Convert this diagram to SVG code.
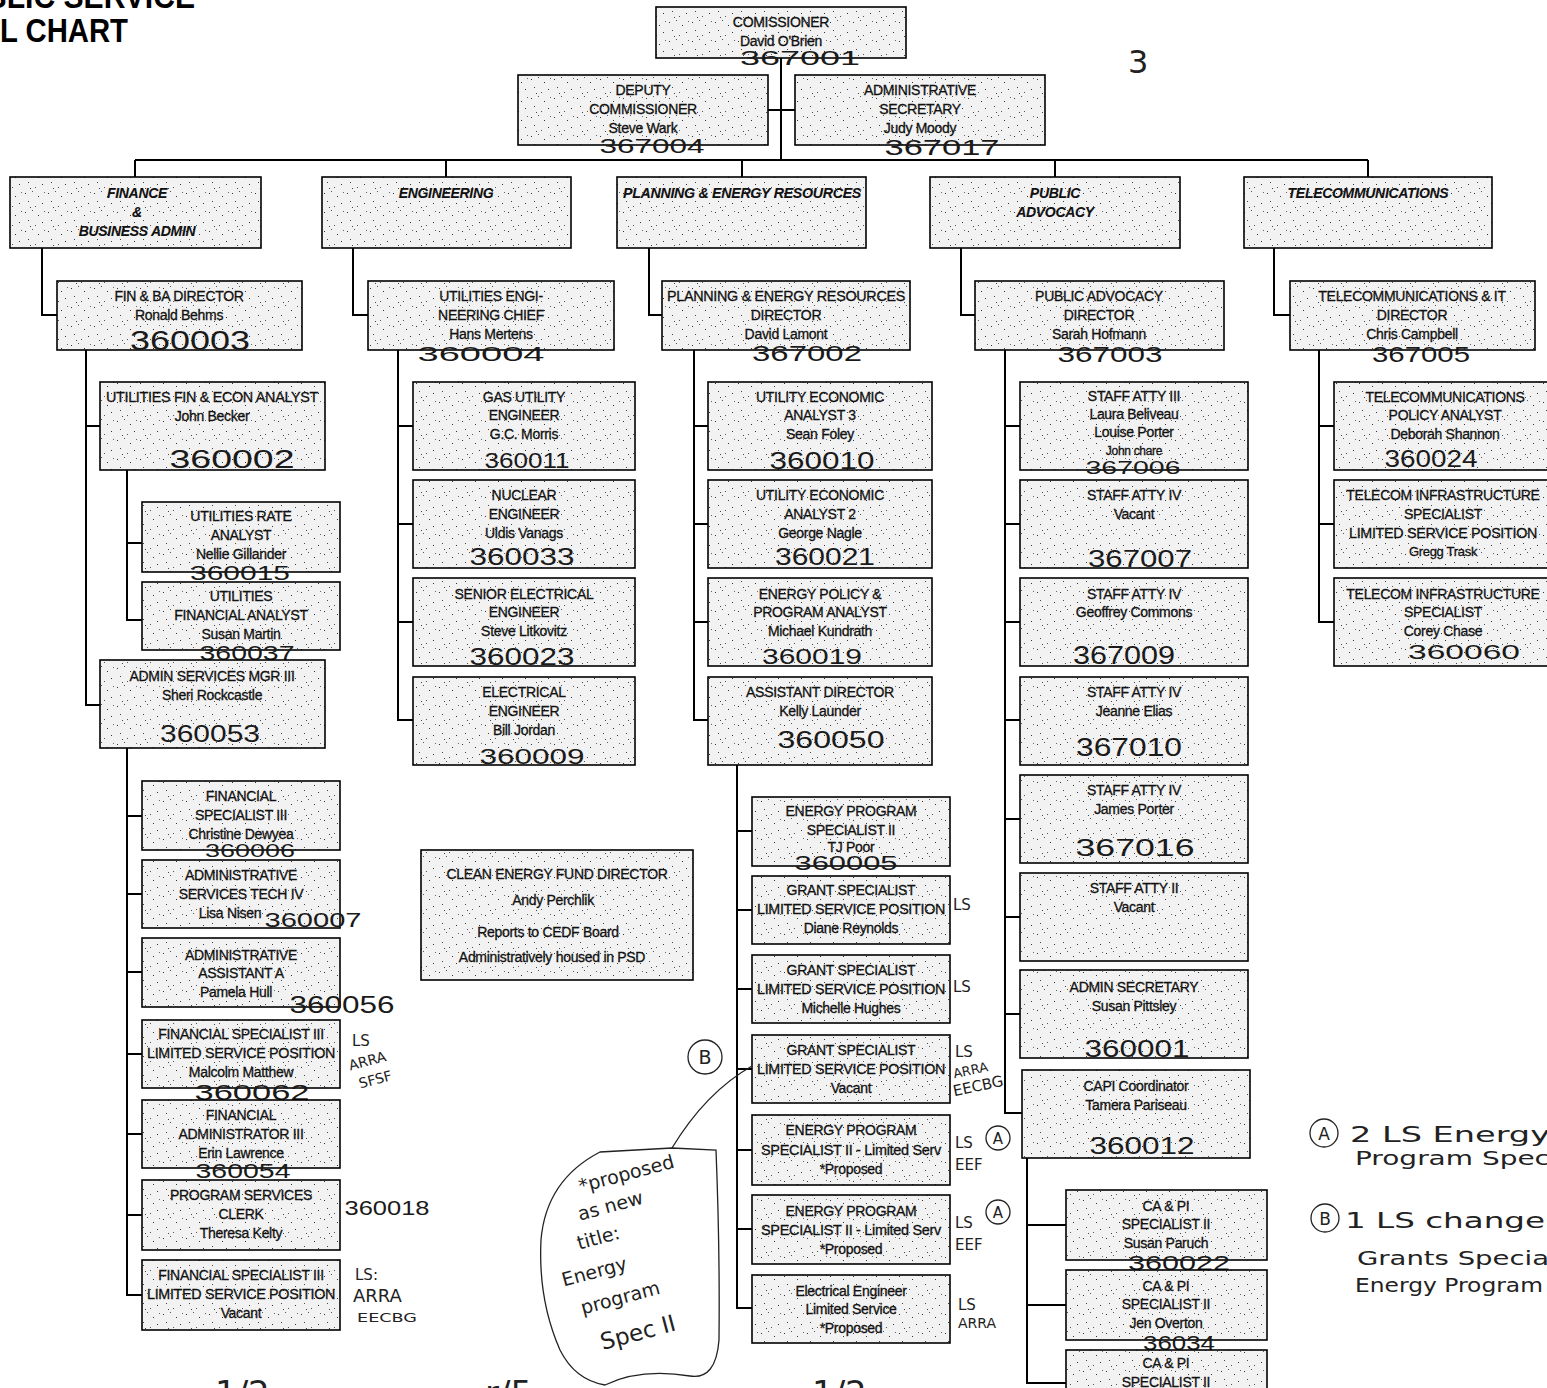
<svg xmlns="http://www.w3.org/2000/svg" width="1547" height="1388" viewBox="0 0 1547 1388">
<defs>
<pattern id="stip" width="23" height="19" patternUnits="userSpaceOnUse">
<rect width="23" height="19" fill="#f2f2f2"/>
<rect x="2" y="3" width="1" height="1" fill="#333"/>
<rect x="9" y="1" width="1" height="1" fill="#555"/>
<rect x="15" y="6" width="1" height="1" fill="#333"/>
<rect x="5" y="11" width="1" height="1" fill="#444"/>
<rect x="19" y="13" width="1" height="1" fill="#333"/>
<rect x="12" y="16" width="1" height="1" fill="#555"/>
<rect x="21" y="2" width="1" height="1" fill="#666"/>
<rect x="7" y="17" width="1" height="1" fill="#444"/>
</pattern>
<style>
.b{fill:url(#stip);stroke:#000;stroke-width:1.6}
.t{font-family:"Liberation Sans",Arial,sans-serif;font-size:14px;text-anchor:middle;fill:#111;stroke:#111;stroke-width:0.3px;letter-spacing:-0.3px}
.d{font-weight:bold;font-style:italic;font-size:14px;stroke-width:0.1px}
.h{font-family:"Liberation Sans",Arial,sans-serif;font-weight:normal;text-anchor:middle;fill:#1a1a1a}
.n{font-family:"DejaVu Sans","Liberation Sans",sans-serif;fill:#222}
.c{stroke:#000;stroke-width:2;fill:none}
.p{stroke:#222;stroke-width:1.3;fill:none}
</style>
</defs>
<rect width="1547" height="1388" fill="#fff"/>

<g id="title">
<text x="195" y="8" text-anchor="end" font-family="Liberation Sans,Arial,sans-serif" font-weight="bold" font-size="33" textLength="210" lengthAdjust="spacingAndGlyphs">BLIC SERVICE</text>
<text x="0" y="42" font-family="Liberation Sans,Arial,sans-serif" font-weight="bold" font-size="33" textLength="128" lengthAdjust="spacingAndGlyphs">L CHART</text>
</g>

<g id="connectors">
<path class="c" d="M781 58V160M768 110H795M135 160H1368M135 160V177M446 160V177M742 160V177M1055 160V177M1368 160V177"/>
<path class="c" d="M42 248V315H57M353 248V315H368M649 248V315H662M961 248V315H975M1274 248V315H1290"/>
<path class="c" d="M86 350V705H100M86 426H100"/>
<path class="c" d="M127 470V620H142M127 543H142"/>
<path class="c" d="M127 748V1295H142M127 816H142M127 894H142M127 972H142M127 1054H142M127 1134H142M127 1215H142"/>
<path class="c" d="M398 350V720H413M398 426H413M398 524H413M398 622H413"/>
<path class="c" d="M694 350V720H708M694 426H708M694 524H708M694 622H708"/>
<path class="c" d="M737 765V1308H752M737 831H752M737 910H752M737 989H752M737 1069H752M737 1150H752M737 1229H752"/>
<path class="c" d="M1005 350V1113H1022M1005 426H1020M1005 524H1020M1005 622H1020M1005 720H1020M1005 819H1020M1005 917H1020M1005 1014H1020"/>
<path class="c" d="M1027 1158V1383H1066M1027 1225H1066M1027 1305H1066"/>
<path class="c" d="M1319 350V622H1334M1319 426H1334M1319 524H1334"/>
</g>

<g id="commissioner"><rect class="b" x="656" y="7" width="250" height="51"/><text class="t" x="781" y="27">COMISSIONER</text><text class="t" x="781" y="46">David O'Brien</text><text class="h" x="800" y="65" font-size="20" textLength="120" lengthAdjust="spacingAndGlyphs">367001</text></g>
<g id="deputy"><rect class="b" x="518" y="75" width="250" height="70"/><text class="t" x="643" y="95">DEPUTY</text><text class="t" x="643" y="114">COMMISSIONER</text><text class="t" x="643" y="133">Steve Wark</text><text class="h" x="652" y="153" font-size="20" textLength="105" lengthAdjust="spacingAndGlyphs">367004</text></g>
<g id="admin-sec"><rect class="b" x="795" y="75" width="250" height="70"/><text class="t" x="920" y="95">ADMINISTRATIVE</text><text class="t" x="920" y="114">SECRETARY</text><text class="t" x="920" y="133">Judy Moody</text><text class="h" x="942" y="155" font-size="22" textLength="115" lengthAdjust="spacingAndGlyphs">367017</text></g>

<g id="dept-finance"><rect class="b" x="10" y="177" width="251" height="71"/><text class="t d" x="137" y="198">FINANCE</text><text class="t d" x="137" y="217">&amp;</text><text class="t d" x="137" y="236">BUSINESS ADMIN</text></g>
<g id="dept-engineering"><rect class="b" x="322" y="177" width="249" height="71"/><text class="t d" x="446" y="198">ENGINEERING</text></g>
<g id="dept-planning"><rect class="b" x="617" y="177" width="249" height="71"/><text class="t d" x="742" y="198" textLength="238" lengthAdjust="spacingAndGlyphs">PLANNING &amp; ENERGY RESOURCES</text></g>
<g id="dept-advocacy"><rect class="b" x="930" y="177" width="250" height="71"/><text class="t d" x="1055" y="198">PUBLIC</text><text class="t d" x="1055" y="217">ADVOCACY</text></g>
<g id="dept-telecom"><rect class="b" x="1244" y="177" width="248" height="71"/><text class="t d" x="1368" y="198">TELECOMMUNICATIONS</text></g>

<g id="finba-director"><rect class="b" x="57" y="281" width="245" height="69"/><text class="t" x="179" y="301">FIN &amp; BA DIRECTOR</text><text class="t" x="179" y="320">Ronald Behms</text><text class="h" x="190" y="350" font-size="28" textLength="120" lengthAdjust="spacingAndGlyphs">360003</text></g>
<g id="eng-chief"><rect class="b" x="368" y="281" width="246" height="69"/><text class="t" x="491" y="301">UTILITIES ENGI-</text><text class="t" x="491" y="320">NEERING CHIEF</text><text class="t" x="491" y="339">Hans Mertens</text><text class="h" x="481" y="361" font-size="20" textLength="127" lengthAdjust="spacingAndGlyphs">360004</text></g>
<g id="per-director"><rect class="b" x="662" y="281" width="248" height="69"/><text class="t" x="786" y="301" textLength="238" lengthAdjust="spacingAndGlyphs">PLANNING &amp; ENERGY RESOURCES</text><text class="t" x="786" y="320">DIRECTOR</text><text class="t" x="786" y="339">David Lamont</text><text class="h" x="807" y="361" font-size="22" textLength="110" lengthAdjust="spacingAndGlyphs">367002</text></g>
<g id="pa-director"><rect class="b" x="975" y="281" width="249" height="69"/><text class="t" x="1099" y="301">PUBLIC ADVOCACY</text><text class="t" x="1099" y="320">DIRECTOR</text><text class="t" x="1099" y="339">Sarah Hofmann</text><text class="h" x="1110" y="362" font-size="22" textLength="105" lengthAdjust="spacingAndGlyphs">367003</text></g>
<g id="tel-director"><rect class="b" x="1290" y="281" width="245" height="69"/><text class="t" x="1412" y="301">TELECOMMUNICATIONS &amp; IT</text><text class="t" x="1412" y="320">DIRECTOR</text><text class="t" x="1412" y="339">Chris Campbell</text><text class="h" x="1421" y="362" font-size="22" textLength="98" lengthAdjust="spacingAndGlyphs">367005</text></g>

<g id="becker"><rect class="b" x="100" y="382" width="225" height="88"/><text class="t" x="212" y="402" textLength="212" lengthAdjust="spacingAndGlyphs">UTILITIES FIN &amp; ECON ANALYST</text><text class="t" x="212" y="421">John Becker</text><text class="h" x="232" y="468" font-size="26" textLength="125" lengthAdjust="spacingAndGlyphs">360002</text></g>
<g id="gillander"><rect class="b" x="142" y="502" width="198" height="70"/><text class="t" x="241" y="521">UTILITIES RATE</text><text class="t" x="241" y="540">ANALYST</text><text class="t" x="241" y="559">Nellie Gillander</text><text class="h" x="240" y="580" font-size="20" textLength="100" lengthAdjust="spacingAndGlyphs">360015</text></g>
<g id="martin"><rect class="b" x="142" y="582" width="198" height="68"/><text class="t" x="241" y="601">UTILITIES</text><text class="t" x="241" y="620">FINANCIAL ANALYST</text><text class="t" x="241" y="639">Susan Martin</text><text class="h" x="247" y="660" font-size="20" textLength="95" lengthAdjust="spacingAndGlyphs">360037</text></g>
<g id="rockcastle"><rect class="b" x="100" y="660" width="225" height="88"/><text class="t" x="212" y="681">ADMIN SERVICES MGR III</text><text class="t" x="212" y="700">Sheri Rockcastle</text><text class="h" x="210" y="742" font-size="24" textLength="100" lengthAdjust="spacingAndGlyphs">360053</text></g>
<g id="dewyea"><rect class="b" x="142" y="781" width="198" height="69"/><text class="t" x="241" y="801">FINANCIAL</text><text class="t" x="241" y="820">SPECIALIST III</text><text class="t" x="241" y="839">Christine Dewyea</text><text class="h" x="250" y="857" font-size="18" textLength="90" lengthAdjust="spacingAndGlyphs">360006</text></g>
<g id="nisen"><rect class="b" x="142" y="860" width="198" height="68"/><text class="t" x="241" y="880">ADMINISTRATIVE</text><text class="t" x="241" y="899">SERVICES TECH IV</text><text class="t" x="230" y="918">Lisa Nisen</text><text class="h" x="313" y="927" font-size="20" textLength="97" lengthAdjust="spacingAndGlyphs">360007</text></g>
<g id="hull"><rect class="b" x="142" y="938" width="198" height="69"/><text class="t" x="241" y="960">ADMINISTRATIVE</text><text class="t" x="241" y="978">ASSISTANT A</text><text class="t" x="236" y="997">Pamela Hull</text><text class="h" x="342" y="1013" font-size="24" textLength="105" lengthAdjust="spacingAndGlyphs">360056</text></g>
<g id="matthew"><rect class="b" x="142" y="1020" width="198" height="68"/><text class="t" x="241" y="1039">FINANCIAL SPECIALIST III</text><text class="t" x="241" y="1058" textLength="188" lengthAdjust="spacingAndGlyphs">LIMITED SERVICE POSITION</text><text class="t" x="241" y="1077">Malcolm Matthew</text><text class="h" x="252" y="1100" font-size="22" textLength="115" lengthAdjust="spacingAndGlyphs">360062</text></g>
<g id="lawrence"><rect class="b" x="142" y="1100" width="198" height="68"/><text class="t" x="241" y="1120">FINANCIAL</text><text class="t" x="241" y="1139">ADMINISTRATOR III</text><text class="t" x="241" y="1158">Erin Lawrence</text><text class="h" x="243" y="1178" font-size="20" textLength="95" lengthAdjust="spacingAndGlyphs">360054</text></g>
<g id="kelty"><rect class="b" x="142" y="1180" width="198" height="70"/><text class="t" x="241" y="1200">PROGRAM SERVICES</text><text class="t" x="241" y="1219">CLERK</text><text class="t" x="241" y="1238">Theresa Kelty</text><text class="h" x="387" y="1215" font-size="20" textLength="85" lengthAdjust="spacingAndGlyphs" font-weight="bold">360018</text></g>
<g id="fin-vacant"><rect class="b" x="142" y="1260" width="198" height="70"/><text class="t" x="241" y="1280">FINANCIAL SPECIALIST III</text><text class="t" x="241" y="1299" textLength="188" lengthAdjust="spacingAndGlyphs">LIMITED SERVICE POSITION</text><text class="t" x="241" y="1318">Vacant</text></g>

<g id="morris"><rect class="b" x="413" y="382" width="222" height="88"/><text class="t" x="524" y="402">GAS UTILITY</text><text class="t" x="524" y="420">ENGINEER</text><text class="t" x="524" y="439">G.C. Morris</text><text class="h" x="527" y="468" font-size="22" textLength="85" lengthAdjust="spacingAndGlyphs">360011</text></g>
<g id="vanags"><rect class="b" x="413" y="480" width="222" height="88"/><text class="t" x="524" y="500">NUCLEAR</text><text class="t" x="524" y="519">ENGINEER</text><text class="t" x="524" y="538">Uldis Vanags</text><text class="h" x="522" y="565" font-size="24" textLength="105" lengthAdjust="spacingAndGlyphs">360033</text></g>
<g id="litkovitz"><rect class="b" x="413" y="578" width="222" height="88"/><text class="t" x="524" y="599">SENIOR ELECTRICAL</text><text class="t" x="524" y="617">ENGINEER</text><text class="t" x="524" y="636">Steve Litkovitz</text><text class="h" x="522" y="665" font-size="24" textLength="105" lengthAdjust="spacingAndGlyphs">360023</text></g>
<g id="jordan"><rect class="b" x="413" y="677" width="222" height="88"/><text class="t" x="524" y="697">ELECTRICAL</text><text class="t" x="524" y="716">ENGINEER</text><text class="t" x="524" y="735">Bill Jordan</text><text class="h" x="532" y="764" font-size="22" textLength="105" lengthAdjust="spacingAndGlyphs">360009</text></g>

<g id="cedf"><rect class="b" x="421" y="850" width="272" height="130"/><text class="t" x="557" y="879">CLEAN ENERGY FUND DIRECTOR</text><text class="t" x="553" y="905">Andy Perchlik</text><text class="t" x="548" y="937">Reports to CEDF Board</text><text class="t" x="552" y="962">Administratively housed in PSD</text></g>

<g id="foley"><rect class="b" x="708" y="382" width="224" height="88"/><text class="t" x="820" y="402">UTILITY ECONOMIC</text><text class="t" x="820" y="420">ANALYST 3</text><text class="t" x="820" y="439">Sean Foley</text><text class="h" x="822" y="469" font-size="24" textLength="105" lengthAdjust="spacingAndGlyphs">360010</text></g>
<g id="nagle"><rect class="b" x="708" y="480" width="224" height="88"/><text class="t" x="820" y="500">UTILITY ECONOMIC</text><text class="t" x="820" y="519">ANALYST 2</text><text class="t" x="820" y="538">George Nagle</text><text class="h" x="825" y="565" font-size="24" textLength="100" lengthAdjust="spacingAndGlyphs">360021</text></g>
<g id="kundrath"><rect class="b" x="708" y="578" width="224" height="88"/><text class="t" x="820" y="599">ENERGY POLICY &amp;</text><text class="t" x="820" y="617">PROGRAM ANALYST</text><text class="t" x="820" y="636">Michael Kundrath</text><text class="h" x="812" y="664" font-size="22" textLength="100" lengthAdjust="spacingAndGlyphs">360019</text></g>
<g id="launder"><rect class="b" x="708" y="677" width="224" height="88"/><text class="t" x="820" y="697">ASSISTANT DIRECTOR</text><text class="t" x="820" y="716">Kelly Launder</text><text class="h" x="831" y="748" font-size="24" textLength="107" lengthAdjust="spacingAndGlyphs">360050</text></g>

<g id="poor"><rect class="b" x="752" y="797" width="198" height="69"/><text class="t" x="851" y="816">ENERGY PROGRAM</text><text class="t" x="851" y="835">SPECIALIST II</text><text class="t" x="851" y="852">TJ Poor</text><text class="h" x="846" y="870" font-size="20" textLength="103" lengthAdjust="spacingAndGlyphs">360005</text></g>
<g id="reynolds"><rect class="b" x="752" y="876" width="198" height="68"/><text class="t" x="851" y="895">GRANT SPECIALIST</text><text class="t" x="851" y="914" textLength="188" lengthAdjust="spacingAndGlyphs">LIMITED SERVICE POSITION</text><text class="t" x="851" y="933">Diane Reynolds</text></g>
<g id="hughes"><rect class="b" x="752" y="955" width="198" height="68"/><text class="t" x="851" y="975">GRANT SPECIALIST</text><text class="t" x="851" y="994" textLength="188" lengthAdjust="spacingAndGlyphs">LIMITED SERVICE POSITION</text><text class="t" x="851" y="1013">Michelle Hughes</text></g>
<g id="grant-vacant"><rect class="b" x="752" y="1035" width="198" height="68"/><text class="t" x="851" y="1055">GRANT SPECIALIST</text><text class="t" x="851" y="1074" textLength="188" lengthAdjust="spacingAndGlyphs">LIMITED SERVICE POSITION</text><text class="t" x="851" y="1093">Vacant</text></g>
<g id="eps-1"><rect class="b" x="752" y="1115" width="198" height="70"/><text class="t" x="851" y="1135">ENERGY PROGRAM</text><text class="t" x="851" y="1155" textLength="180" lengthAdjust="spacingAndGlyphs">SPECIALIST II - Limited Serv</text><text class="t" x="851" y="1174">*Proposed</text></g>
<g id="eps-2"><rect class="b" x="752" y="1195" width="198" height="69"/><text class="t" x="851" y="1216">ENERGY PROGRAM</text><text class="t" x="851" y="1235" textLength="180" lengthAdjust="spacingAndGlyphs">SPECIALIST II - Limited Serv</text><text class="t" x="851" y="1254">*Proposed</text></g>
<g id="elec-eng-ls"><rect class="b" x="752" y="1275" width="198" height="68"/><text class="t" x="851" y="1296">Electrical Engineer</text><text class="t" x="851" y="1314">Limited Service</text><text class="t" x="851" y="1333">*Proposed</text></g>

<g id="atty-iii"><rect class="b" x="1020" y="382" width="228" height="88"/><text class="t" x="1134" y="401">STAFF ATTY III</text><text class="t" x="1134" y="419">Laura Beliveau</text><text class="t" x="1134" y="437">Louise Porter</text><text class="t" x="1134" y="455" style="font-size:12px">John chare</text><text class="h" x="1133" y="474" font-size="18" textLength="95" lengthAdjust="spacingAndGlyphs">367006</text></g>
<g id="atty-iv-vacant"><rect class="b" x="1020" y="480" width="228" height="88"/><text class="t" x="1134" y="500">STAFF ATTY IV</text><text class="t" x="1134" y="519">Vacant</text><text class="h" x="1140" y="567" font-size="24" textLength="104" lengthAdjust="spacingAndGlyphs">367007</text></g>
<g id="commons"><rect class="b" x="1020" y="578" width="228" height="88"/><text class="t" x="1134" y="599">STAFF ATTY IV</text><text class="t" x="1134" y="617">Geoffrey Commons</text><text class="h" x="1124" y="664" font-size="26" textLength="102" lengthAdjust="spacingAndGlyphs">367009</text></g>
<g id="elias"><rect class="b" x="1020" y="677" width="228" height="88"/><text class="t" x="1134" y="697">STAFF ATTY IV</text><text class="t" x="1134" y="716">Jeanne Elias</text><text class="h" x="1129" y="756" font-size="26" textLength="106" lengthAdjust="spacingAndGlyphs">367010</text></g>
<g id="j-porter"><rect class="b" x="1020" y="775" width="228" height="88"/><text class="t" x="1134" y="795">STAFF ATTY IV</text><text class="t" x="1134" y="814">James Porter</text><text class="h" x="1135" y="856" font-size="24" textLength="119" lengthAdjust="spacingAndGlyphs">367016</text></g>
<g id="atty-ii"><rect class="b" x="1020" y="873" width="228" height="88"/><text class="t" x="1134" y="893">STAFF ATTY II</text><text class="t" x="1134" y="912">Vacant</text></g>
<g id="pittsley"><rect class="b" x="1020" y="970" width="228" height="88"/><text class="t" x="1134" y="992">ADMIN SECRETARY</text><text class="t" x="1134" y="1011">Susan Pittsley</text><text class="h" x="1137" y="1057" font-size="24" textLength="105" lengthAdjust="spacingAndGlyphs">360001</text></g>
<g id="pariseau"><rect class="b" x="1022" y="1070" width="228" height="88"/><text class="t" x="1136" y="1091">CAPI Coordinator</text><text class="t" x="1136" y="1110">Tamera Pariseau</text><text class="h" x="1142" y="1154" font-size="24" textLength="105" lengthAdjust="spacingAndGlyphs">360012</text></g>
<g id="paruch"><rect class="b" x="1066" y="1190" width="201" height="70"/><text class="t" x="1166" y="1211">CA &amp; PI</text><text class="t" x="1166" y="1229">SPECIALIST II</text><text class="t" x="1166" y="1248">Susan Paruch</text><text class="h" x="1179" y="1270" font-size="20" textLength="102" lengthAdjust="spacingAndGlyphs">360022</text></g>
<g id="overton"><rect class="b" x="1066" y="1270" width="201" height="70"/><text class="t" x="1166" y="1291">CA &amp; PI</text><text class="t" x="1166" y="1309">SPECIALIST II</text><text class="t" x="1166" y="1328">Jen Overton</text><text class="h" x="1179" y="1350" font-size="20" textLength="72" lengthAdjust="spacingAndGlyphs">36034</text></g>
<g id="capi-3"><rect class="b" x="1066" y="1350" width="201" height="70"/><text class="t" x="1166" y="1368">CA &amp; PI</text><text class="t" x="1166" y="1387">SPECIALIST II</text></g>

<g id="shannon"><rect class="b" x="1334" y="382" width="216" height="88"/><text class="t" x="1445" y="402">TELECOMMUNICATIONS</text><text class="t" x="1445" y="420">POLICY ANALYST</text><text class="t" x="1445" y="439">Deborah Shannon</text><text class="h" x="1431" y="467" font-size="24" textLength="93" lengthAdjust="spacingAndGlyphs">360024</text></g>
<g id="trask"><rect class="b" x="1334" y="480" width="216" height="88"/><text class="t" x="1443" y="500">TELECOM INFRASTRUCTURE</text><text class="t" x="1443" y="519">SPECIALIST</text><text class="t" x="1443" y="538" textLength="188" lengthAdjust="spacingAndGlyphs">LIMITED SERVICE POSITION</text><text class="t" x="1443" y="556" style="font-size:13px">Gregg Trask</text></g>
<g id="chase"><rect class="b" x="1334" y="578" width="216" height="88"/><text class="t" x="1443" y="599">TELECOM INFRASTRUCTURE</text><text class="t" x="1443" y="617">SPECIALIST</text><text class="t" x="1443" y="636">Corey Chase</text><text class="h" x="1464" y="659" font-size="20" textLength="112" lengthAdjust="spacingAndGlyphs">360060</text></g>

<g id="annotations" font-size="15">
<text class="n" x="1128" y="73" font-size="32">3</text>
<text class="n" x="352" y="1046">LS</text>
<text class="n" x="350" y="1068" font-size="14" transform="rotate(-15 360 1068)">ARRA</text>
<text class="n" x="360" y="1086" font-size="14" transform="rotate(-15 370 1086)">SFSF</text>
<text class="n" x="355" y="1280">LS:</text>
<text class="n" x="353" y="1302" font-size="18">ARRA</text>
<text class="n" x="357" y="1322" font-size="13" textLength="60" lengthAdjust="spacingAndGlyphs">EECBG</text>
<text class="n" x="953" y="910">LS</text>
<text class="n" x="953" y="992">LS</text>
<text class="n" x="955" y="1057">LS</text>
<text class="n" x="954" y="1077" font-size="13" transform="rotate(-12 960 1077)">ARRA</text>
<text class="n" x="954" y="1095" font-size="15" transform="rotate(-12 960 1095)">EECBG</text>
<text class="n" x="955" y="1148">LS</text>
<text class="n" x="955" y="1170">EEF</text>
<circle class="p" cx="998" cy="1138" r="12"/><text class="n" x="998" y="1144" text-anchor="middle" font-size="15">A</text>
<text class="n" x="955" y="1228">LS</text>
<text class="n" x="955" y="1250">EEF</text>
<circle class="p" cx="998" cy="1212" r="12"/><text class="n" x="998" y="1218" text-anchor="middle" font-size="15">A</text>
<text class="n" x="958" y="1310">LS</text>
<text class="n" x="958" y="1328" font-size="14">ARRA</text>
<circle class="p" cx="705" cy="1057" r="17"/><text class="n" x="705" y="1064" text-anchor="middle" font-size="19">B</text>
<path class="p" d="M752 1066 Q706 1092 672 1148"/>
<path class="p" d="M672 1148 L716 1150 Q720 1250 719 1340 Q716 1380 690 1376 Q640 1368 605 1385 Q575 1380 560 1350 Q538 1300 541 1240 Q546 1180 600 1152 Z"/>
<text class="n" font-size="19" transform="rotate(-15 628 1180)" x="628" y="1180" text-anchor="middle">*proposed</text>
<text class="n" font-size="19" transform="rotate(-15 612 1212)" x="612" y="1212" text-anchor="middle">as new</text>
<text class="n" font-size="19" transform="rotate(-15 600 1244)" x="600" y="1244" text-anchor="middle">title:</text>
<text class="n" font-size="19" transform="rotate(-15 596 1278)" x="596" y="1278" text-anchor="middle">Energy</text>
<text class="n" font-size="19" transform="rotate(-15 622 1304)" x="622" y="1304" text-anchor="middle">program</text>
<text class="n" font-size="23" transform="rotate(-15 640 1340)" x="640" y="1340" text-anchor="middle">Spec II</text>
<circle class="p" cx="1324" cy="1133" r="14"/><text class="n" x="1324" y="1140" text-anchor="middle" font-size="17">A</text>
<text class="n" x="1350" y="1142" font-size="22" textLength="200" lengthAdjust="spacingAndGlyphs">2 LS Energy</text>
<text class="n" x="1355" y="1165" font-size="20" textLength="195" lengthAdjust="spacingAndGlyphs">Program Spec</text>
<circle class="p" cx="1325" cy="1218" r="14"/><text class="n" x="1325" y="1225" text-anchor="middle" font-size="17">B</text>
<text class="n" x="1345" y="1228" font-size="22" textLength="200" lengthAdjust="spacingAndGlyphs">1 LS change</text>
<text class="n" x="1357" y="1265" font-size="20" textLength="192" lengthAdjust="spacingAndGlyphs">Grants Specia</text>
<text class="n" x="1355" y="1292" font-size="19" textLength="188" lengthAdjust="spacingAndGlyphs">Energy Program</text>
<text class="n" x="215" y="1405" font-size="34">1/2</text>
<text class="n" x="485" y="1405" font-size="34">r/5</text>
<text class="n" x="812" y="1405" font-size="34">1/2</text>
</g>
</svg>
